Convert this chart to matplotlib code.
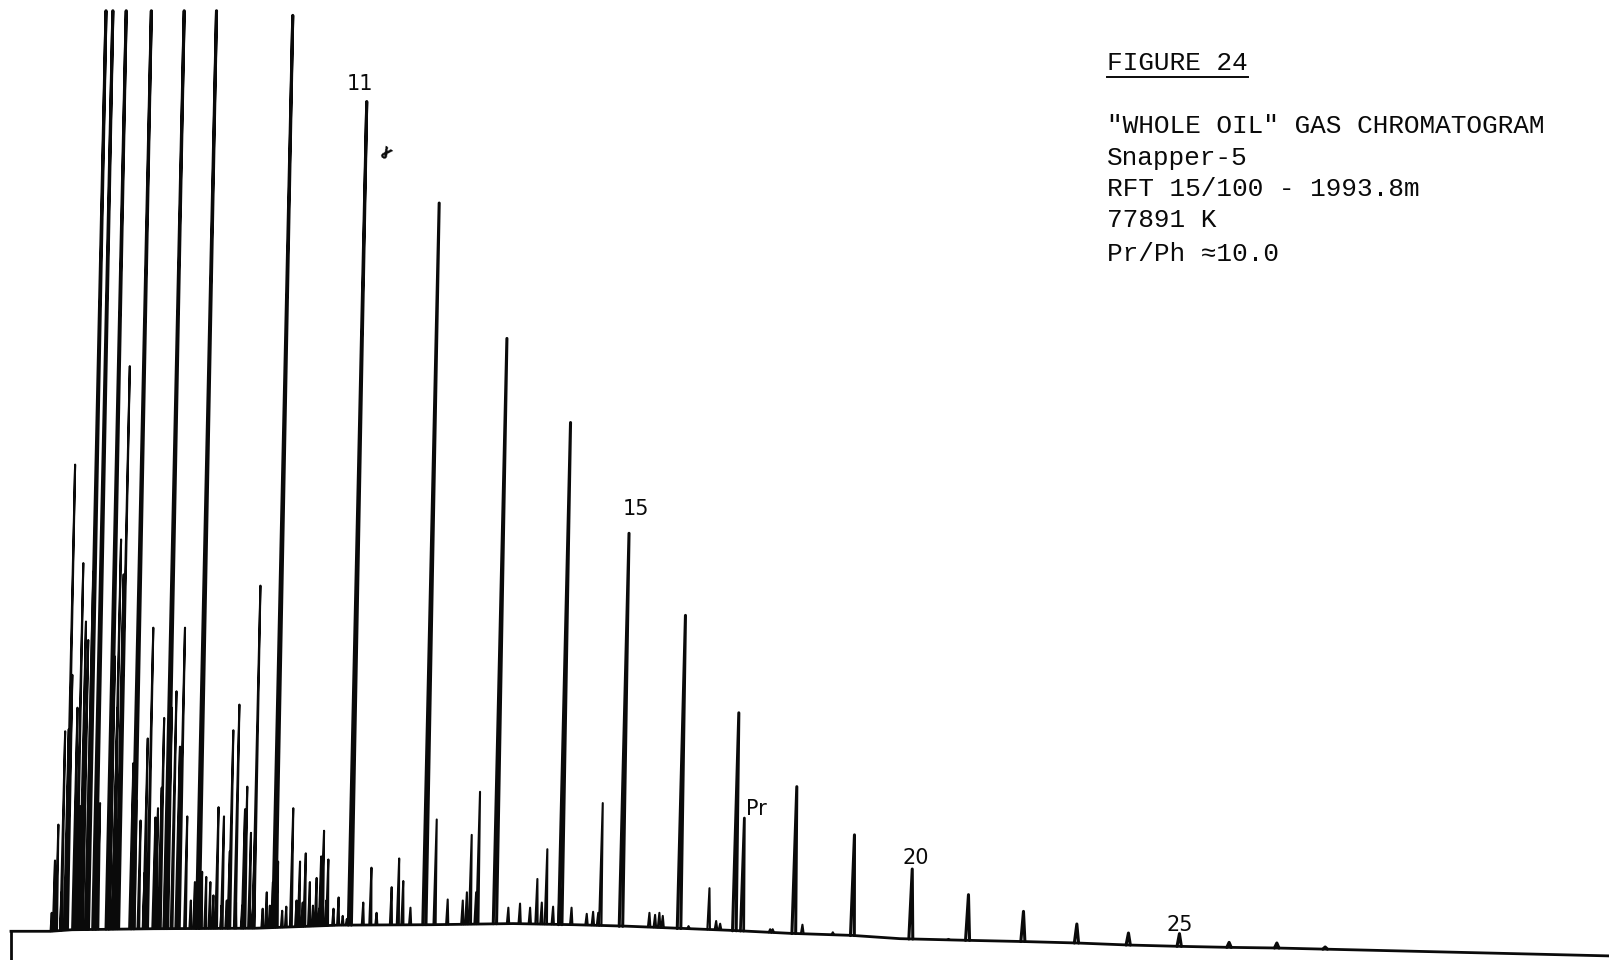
import numpy as np
import matplotlib.pyplot as plt

# Chart units: pixels of the scanned strip, x to the right, response measured up
# from the pen zero line at the left edge of the trace.

# pen baseline (drifts down towards the end of the run)
base_x = [10.7, 49, 70, 150, 250, 330, 420, 500, 560, 610, 660, 710, 770, 830,
          877, 942, 997, 1049, 1100, 1150, 1199, 1244, 1568]
base_resp = [0, 0, 1.5, 2.5, 3, 6, 6.4, 7.5, 6.4, 5, 3, 1, -2, -4,
             -7.2, -8.8, -10, -11.4, -13.4, -14.7, -15.7, -16.3, -24]

# big light-end peaks (pen runs off the chart)
light_x = [103.3, 110, 123, 147.5, 179.5, 211, 285.3]
light_resp = [897.5, 897.5, 897.5, 897.5, 897.5, 897.5, 893]

# n-alkanes C11 .. C28 (apex positions as drawn by the pen)
nalk_c = list(range(11, 29))
nalk_x = [357.4, 428, 494, 556, 613, 668, 720, 776.5, 832.7, 889, 943.8, 997.4,
          1049.4, 1099.7, 1149.4, 1197.8, 1244.3, 1291.4]
nalk_resp = [809, 710, 578, 496, 388, 308, 213, 141, 94, 60.7, 35.7, 19.4,
             7.1, -1.7, -2.3, -10.8, -11.4, -15.3]

# pristane
pr_x = [725.4]
pr_resp = [110.4]

# minor components
minor_x = [50.4, 53.6, 56.9, 60, 63.5, 67, 70.5, 73.2, 75.5, 78, 81.2, 83.8, 86,
           87.7, 91, 92.6, 97.5, 112, 114.5, 118, 120.5, 126.5, 130, 133, 137,
           141, 144, 149.4, 151.5, 154, 157.6, 160, 162.5, 165, 167.5, 172,
           175.4, 180.3, 182.5, 186, 190, 194, 197, 201, 205, 208, 213, 216,
           218.3, 221, 224, 227.4, 230, 233.3, 236, 238.8, 241, 244.6, 247, 249,
           253.8, 256, 260, 263, 266, 271, 275, 279, 285.8, 289, 292.4, 295, 298,
           302, 305, 308.6, 311, 313, 315.8, 318, 320, 325, 330, 334, 338, 354,
           362, 367, 381.7, 389, 393, 400, 425.6, 436.3, 451, 455, 459.7, 464,
           467.8, 495.4, 506.8, 516.6, 523.7, 528, 533.4, 539, 545.8, 557,
           571.8, 578, 583, 587.4, 632.9, 638.4, 642.6, 645.9, 671, 691.4,
           697.9, 701.8, 750.5, 753, 782, 811.6, 924.3]
minor_resp = [18, 69, 104, 38, 195, 197, 250, 455, 218, 122, 359, 302, 284,
              167, 351, 395, 125, 268, 218, 382, 348, 551, 164, 128, 108,
              57, 188, 296, 111, 120, 140, 208, 107, 125, 218, 234,
              180, 296, 112, 30, 48, 68, 58, 53, 48, 35, 121, 25,
              112, 30, 78, 196, 28, 221, 25, 119, 141, 96, 30, 108,
              337, 22, 38, 25, 48, 68, 20, 24, 120, 30, 68, 28, 76,
              48, 25, 52, 22, 73, 98, 30, 70, 22, 33, 15, 12, 28,
              62, 18, 43, 71, 49, 23, 109, 31, 30, 38, 94, 38,
              136, 23, 27, 23, 51, 28, 80, 24, 48, 23,
              17, 19, 18, 125, 18, 16, 18, 15, 5, 42,
              10, 7.4, 2, 2, 6.4, -1, -7.5]

# hand-written marks on the chart
marks = ["11", "15", "Pr", "20", "25"]
mark_x = [350.5, 620, 737, 892, 1150]
mark_y = [826, 412, 119, 71, 6]

info_lines = ['"WHOLE OIL" GAS CHROMATOGRAM', "Snapper-5", "RFT 15/100 - 1993.8m",
              "77891 K", "Pr/Ph \u224810.0"]

SKEW = 0.0205   # pen arc: apex drawn to the right of the foot


def peak_path(px, presp, w0):
    xs, ys = [], []
    for x, r in zip(px, presp):
        b = np.interp(x, base_x, base_resp)
        foot = x - SKEW * (r - b)
        w = w0 + 0.0008 * x
        xs += [foot - w, x, foot + w, np.nan]
        ys += [b, r, b, np.nan]
    return xs, ys


fig = plt.figure(figsize=(16.09, 9.60), dpi=100)
ax = fig.add_axes([0, 0, 1, 1])
ax.set_xlim(0, 1568)
ax.set_ylim(-28, 908)
ax.axis("off")

ink = "#0a0a0a"
ax.plot(base_x, base_resp, color=ink, lw=2.0, solid_joinstyle="round")
ax.plot([base_x[0], base_x[0]], [base_resp[0], -28], color=ink, lw=2.0)

for px, pr, w0, lw in [(minor_x, minor_resp, 0.7, 1.5), (light_x, light_resp, 1.2, 2.2),
                       (nalk_x, nalk_resp, 1.2, 2.2), (pr_x, pr_resp, 1.0, 2.0)]:
    xs, ys = peak_path(px, pr, w0)
    ax.plot(xs, ys, color=ink, lw=lw, solid_joinstyle="round",
            solid_capstyle="round")

for t, x, y in zip(marks, mark_x, mark_y):
    ax.text(x, y, t, fontsize=15, family="DejaVu Sans", color=ink,
            ha="center", va="center")
ax.text(376, 760, "ɣ", fontsize=11, color=ink, rotation=-35,
        ha="center", va="center", fontweight="bold")

mono = ["Liberation Mono", "DejaVu Sans Mono"]
ax.text(1079.2, 839.8, "FIGURE 24", fontsize=18.8, family=mono, color=ink,
        va="baseline")
ax.plot([1079.2, 1216], [833.2, 833.2], color=ink, lw=1.4)
line_y = [778, 747.2, 717.3, 687, 654]
for t, y in zip(info_lines, line_y):
    ax.text(1079.2, y, t, fontsize=18.8, family=mono, color=ink, va="baseline")

plt.savefig("out.png", dpi=100)
